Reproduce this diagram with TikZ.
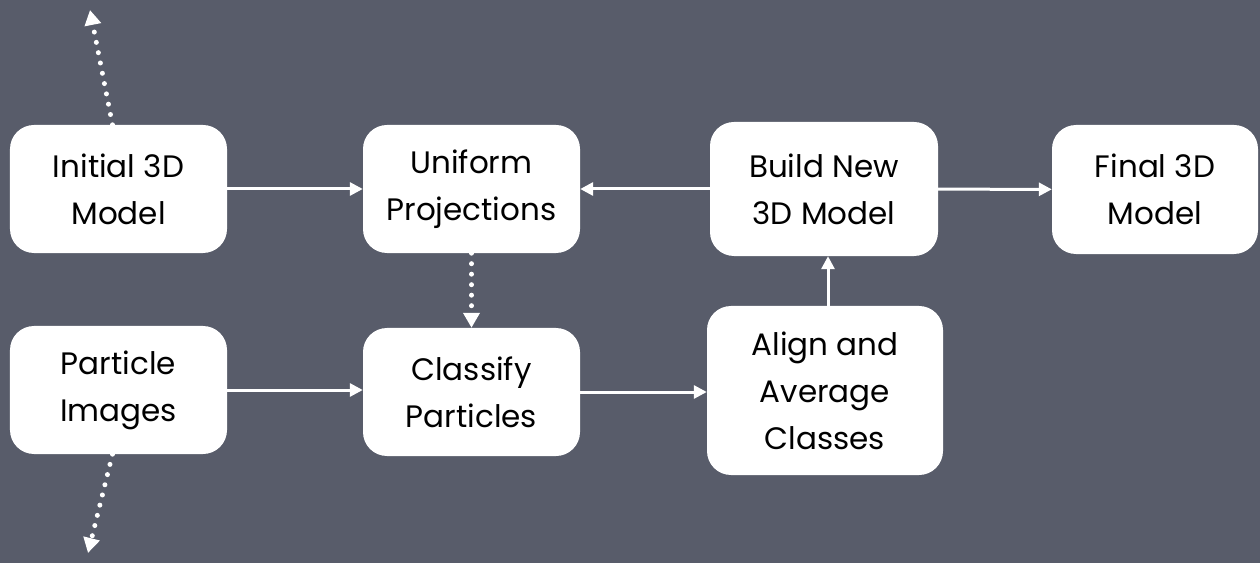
\documentclass[tikz,border=0pt]{standalone}
\usepackage{fontspec}
\setmainfont{Poppins}
\usetikzlibrary{arrows.meta}
\definecolor{slate}{RGB}{88,92,106}
\tikzset{
  stepbox/.style={fill=white, rounded corners=24bp, inner sep=0pt, align=center,
    font=\fontsize{31bp}{47bp}\selectfont, text=black},
  flow/.style={draw=white, line width=3bp, -{Triangle[length=13bp,width=13bp]}},
  dotflow/.style={draw=white, line width=5bp, line cap=round, dash pattern=on 0bp off 10.5bp,
    -{Triangle[length=15bp,width=16bp,line cap=butt]}}
}
\begin{document}
\begin{tikzpicture}[x=1bp, y=-1bp]
\fill[slate] (0,0) rectangle (1260,563);
\useasboundingbox (0,0) rectangle (1260,563);
% Cajas de la fila superior
\node[stepbox, minimum width=217bp, minimum height=128bp] (init) at (118.5,189) {Initial 3D\\Model};
\node[stepbox, minimum width=217bp, minimum height=128bp] (unif) at (471.5,189) {Uniform\\Projections};
\node[stepbox, minimum width=228bp, minimum height=134bp] (build) at (824,189) {Build New\\3D Model};
\node[stepbox, minimum width=206bp, minimum height=129bp] (final) at (1155,189.5) {Final 3D\\Model};
% Cajas de la fila inferior
\node[stepbox, minimum width=217bp, minimum height=128bp] (part) at (118.5,390) {Particle\\Images};
\node[stepbox, minimum width=217bp, minimum height=128bp] (class) at (471.5,392) {Classify\\Particles};
\node[stepbox, minimum width=236bp, minimum height=169bp] (align) at (825,390.5) {Align and\\Average\\Classes};
% Extremos libres de las flechas punteadas
\coordinate (up) at (90,10);
\coordinate (down) at (88,553);
% Flujo principal
\draw[flow] (init) -- (unif);
\draw[flow] (build) -- (unif);
\draw[flow] (build) -- (final);
\draw[flow] (part.east) -- (part.east -| class.west);
\draw[flow] (class) -- (align.west |- class.east);
\draw[flow] ([xshift=3bp]align.north) -- ([xshift=3bp]align.north |- build.south);
% Flechas punteadas
\draw[dotflow] (unif) -- (class);
\draw[dotflow] ([xshift=-6bp]init.north) -- (up);
\draw[dotflow] ([xshift=-6bp]part.south) -- (down);
\end{tikzpicture}
\end{document}
